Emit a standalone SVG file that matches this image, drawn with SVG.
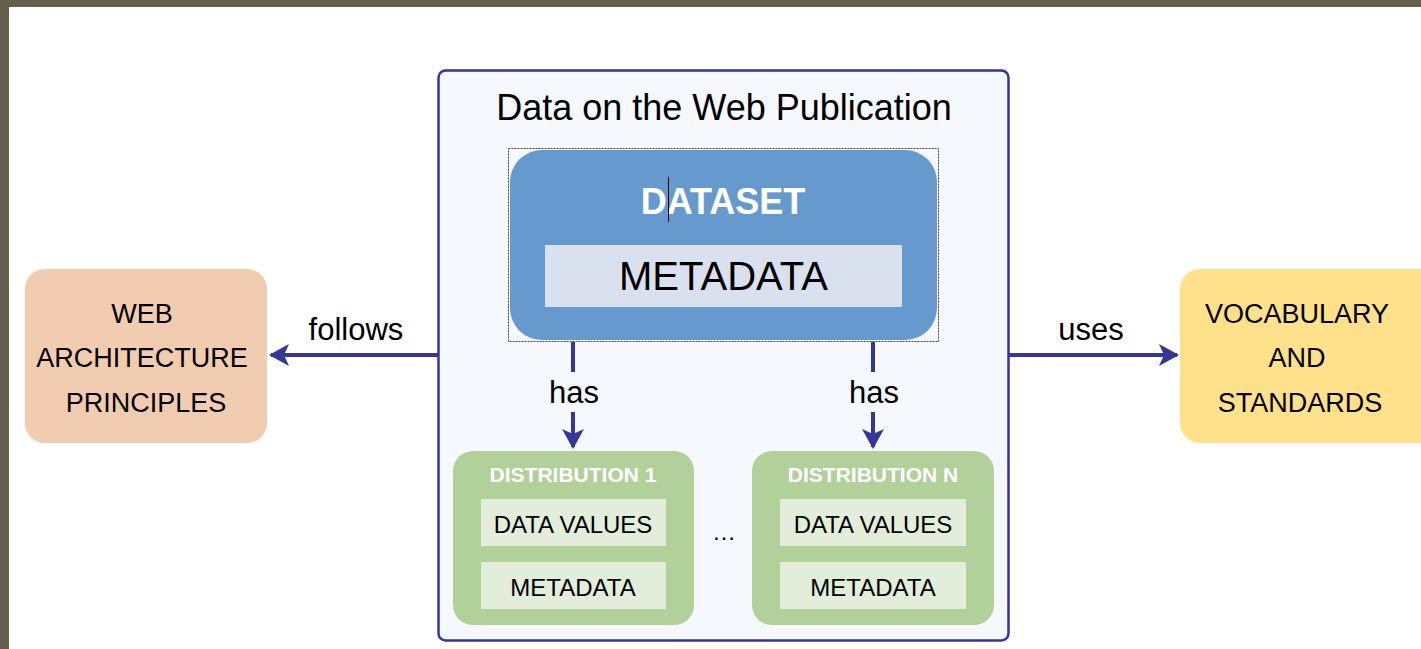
<svg xmlns="http://www.w3.org/2000/svg" width="1421" height="649" viewBox="0 0 1421 649">
<style>
text{font-family:"Liberation Sans",Arial,sans-serif;text-anchor:middle;fill:#000}
.lbl{font-size:31px}
.side{font-size:27px}
.dtitle{font-size:21px;font-weight:bold;fill:#fff}
.inner{font-size:24px}
.conn{stroke:#35359A;stroke-width:4;fill:none}
</style>
<defs>
<marker id="ah" viewBox="0 0 20 22" refX="18" refY="11" markerWidth="20" markerHeight="22" markerUnits="userSpaceOnUse" orient="auto">
<path d="M0,0 L20,11 L0,22 L5,11 Z" fill="#35359A"/>
</marker>
</defs>
<rect x="0" y="0" width="1421" height="649" fill="#fff"/>
<rect x="0" y="0" width="1421" height="7" fill="#655D4D"/>
<rect x="0" y="0" width="9" height="649" fill="#655D4D"/>
<g id="publication">
<rect x="438.5" y="70.5" width="570" height="570" rx="7" fill="#F5F8FD" stroke="#35359A" stroke-width="2.5"/>
<text x="724" y="120" style="font-size:36px">Data on the Web Publication</text>
</g>
<g id="dataset">
<rect x="508.5" y="148.5" width="430" height="193" fill="none" stroke="#444" stroke-width="1" stroke-dasharray="2,1"/>
<rect x="510" y="150" width="427" height="190" rx="32" fill="#6699CE"/>
<text x="723" y="214" style="font-size:36px;font-weight:bold;fill:#fff">DATASET</text>
<line x1="668.5" y1="177" x2="668.5" y2="222" stroke="#000" stroke-width="1"/>
<rect x="545" y="245" width="357" height="62" fill="#DAE1EE"/>
<text x="723.5" y="290" style="font-size:40px">METADATA</text>
</g>
<g id="web-arch">
<rect x="25" y="269" width="242" height="174" rx="20" fill="#F2CCB0"/>
<text class="side" x="142" y="323">WEB</text>
<text class="side" x="142" y="367">ARCHITECTURE</text>
<text class="side" x="146" y="412">PRINCIPLES</text>
</g>
<g id="vocab">
<rect x="1180" y="269" width="260" height="174" rx="20" fill="#FFE18C"/>
<text class="side" x="1297" y="323">VOCABULARY</text>
<text class="side" x="1297" y="367">AND</text>
<text class="side" x="1300" y="412">STANDARDS</text>
</g>
<g id="dist1">
<rect x="453" y="451" width="241" height="174" rx="20" fill="#B2D09A"/>
<text class="dtitle" x="573" y="482">DISTRIBUTION 1</text>
<rect x="481" y="499" width="185" height="47" fill="#E3EEDA"/>
<text class="inner" x="573" y="533">DATA VALUES</text>
<rect x="481" y="562" width="185" height="47" fill="#E3EEDA"/>
<text class="inner" x="573" y="596">METADATA</text>
</g>
<g id="distN">
<rect x="752" y="451" width="242" height="174" rx="20" fill="#B2D09A"/>
<text class="dtitle" x="873" y="482">DISTRIBUTION N</text>
<rect x="780" y="499" width="186" height="47" fill="#E3EEDA"/>
<text class="inner" x="873" y="533">DATA VALUES</text>
<rect x="780" y="562" width="186" height="47" fill="#E3EEDA"/>
<text class="inner" x="873" y="596">METADATA</text>
</g>
<text x="724" y="540" style="font-size:24px">…</text>
<g id="connectors">
<line class="conn" x1="438" y1="355" x2="271" y2="355" marker-end="url(#ah)"/>
<text class="lbl" x="356" y="340">follows</text>
<line class="conn" x1="1009" y1="355" x2="1177" y2="355" marker-end="url(#ah)"/>
<text class="lbl" x="1091" y="340">uses</text>
<line class="conn" x1="573" y1="342" x2="573" y2="447" marker-end="url(#ah)"/>
<line class="conn" x1="873" y1="342" x2="873" y2="447" marker-end="url(#ah)"/>
<rect x="552" y="372" width="44" height="40" fill="#F5F8FD"/>
<rect x="852" y="372" width="44" height="40" fill="#F5F8FD"/>
<text class="lbl" x="574" y="403">has</text>
<text class="lbl" x="874" y="403">has</text>
</g>
</svg>
